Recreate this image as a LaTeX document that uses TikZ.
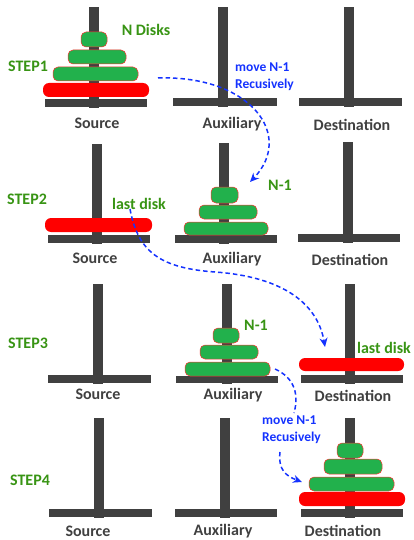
\documentclass[tikz,border=0pt]{standalone}
\usepackage{fontspec}
\setmainfont{Carlito}
\usetikzlibrary{arrows.meta,fit}
\definecolor{polegray}{RGB}{64,64,64}
\definecolor{diskgreen}{RGB}{34,177,76}
\definecolor{txtgreen}{RGB}{56,148,20}
\definecolor{txtblue}{RGB}{20,50,255}
\newcommand\hanoipeg[6]{%
  \fill[pole] (#1-5,#2) rectangle (#1+5,#6+1);
  \fill[pole] (#3,#5) rectangle (#4,#6);}
\begin{document}
\begin{tikzpicture}[x=1pt,y=-1pt,
  pole/.style={fill=polegray},
  gdisk/.style={draw=red!80, line width=0.5pt, fill=diskgreen, rounded corners=5pt, inner sep=0pt},
  rdisk/.style={draw=none, fill=red, rounded corners=6pt, inner sep=0pt},
  peg/.style={font=\bfseries\fontsize{16}{19}\selectfont, text=polegray, inner sep=0pt},
  note/.style={font=\bfseries\fontsize{16}{19}\selectfont, text=txtgreen, inner sep=0pt},
  move/.style={font=\bfseries\fontsize{13.5}{17}\selectfont, text=txtblue, align=left, inner sep=0pt},
  flow/.style={draw=txtblue, line width=1.5pt, dash pattern=on 4.5pt off 3pt},
  tip/.style={-{Stealth[length=9pt,width=8pt]}},
]
\useasboundingbox (0,0) rectangle (413,540);
% ---- pegs
\hanoipeg{94}{7}{45}{147}{99}{107}
\hanoipeg{223}{7}{173}{277}{98}{106}
\hanoipeg{349}{7}{299}{402}{98}{106}
\hanoipeg{97}{144}{48}{150}{235}{243}
\hanoipeg{224}{143}{175}{277}{235}{243}
\hanoipeg{348}{142}{298}{400}{234}{242}
\hanoipeg{98}{284}{48}{151}{375}{383}
\hanoipeg{227}{284}{176}{278}{376}{383}
\hanoipeg{350}{284}{301}{403}{375}{383}
\hanoipeg{99}{418}{49}{152}{509}{517}
\hanoipeg{225}{418}{175}{277}{509}{517}
\hanoipeg{350}{418}{301}{403}{509}{517}
% ---- disks
\node[gdisk, fit={(81,32) (107,47)}] (s1d1) {};
\node[gdisk, fit={(68,50) (126,64)}] (s1d2) {};
\node[gdisk, fit={(53,67) (138,81)}] (s1d3) {};
\node[rdisk, fit={(43,83) (149,97)}] (s1r) {};
\node[rdisk, fit={(45,218) (152,232)}] (s2r) {};
\node[gdisk, fit={(211,187) (238,203)}] (a2d1) {};
\node[gdisk, fit={(199,205) (257,219)}] (a2d2) {};
\node[gdisk, fit={(184,222) (268,235)}] (a2d3) {};
\node[gdisk, fit={(213,328) (239,343)}] (a3d1) {};
\node[gdisk, fit={(200,345) (258,359)}] (a3d2) {};
\node[gdisk, fit={(185,362) (270,376)}] (a3d3) {};
\node[rdisk, fit={(299,358) (404,371)}] (d3r) {};
\node[gdisk, fit={(337,443) (363,458)}] (d4d1) {};
\node[gdisk, fit={(324,459) (382,474)}] (d4d2) {};
\node[gdisk, fit={(309,477) (394,491)}] (d4d3) {};
\node[rdisk, fit={(299,492) (405,506)}] (d4r) {};
% ---- peg labels
\node[peg] (ls1) at (97,123) {Source};
\node[peg] (la1) at (232,124) {Auxiliary};
\node[peg] (ld1) at (352,125) {Destination};
\node[peg] (ls2) at (95,258) {Source};
\node[peg] (la2) at (232,259) {Auxiliary};
\node[peg] (ld2) at (350,260) {Destination};
\node[peg] (ls3) at (98,394) {Source};
\node[peg] (la3) at (233,395) {Auxiliary};
\node[peg] (ld3) at (353,396) {Destination};
\node[peg] (ls4) at (88,531) {Source};
\node[peg] (la4) at (223,531) {Auxiliary};
\node[peg] (ld4) at (343,531) {Destination};
% ---- green notes
\node[note] (st1) at (28,66) {STEP1};
\node[note] (st2) at (27,199) {STEP2};
\node[note] (st3) at (28,343) {STEP3};
\node[note] (st4) at (30,480) {STEP4};
\node[note] (nd) at (146,30) {N Disks};
\node[note] (ld) at (139,204) {last disk};
\node[note] (n1a) at (280,185) {N-1};
\node[note] (n1b) at (256,325) {N-1};
\node[note] (ldb) at (384,348) {last disk};
% ---- blue notes
\node[move, anchor=west] (mv1) at (235,77) {move N-1\\Recusively};
\node[move, anchor=west] (mv2) at (262,430) {move N-1\\Recusively};
% ---- arrows
\coordinate (a1s) at (158,78);
\coordinate (a1e) at (250,182);
\draw[flow, tip] (a1s) .. controls (250,75) and (295,135) .. (a1e);
\coordinate (a2s) at (130,209);
\coordinate (a2m) at (215,272);
\coordinate (a2e) at (325,347);
\draw[flow, tip] (a2s) .. controls (138,252) and (160,268) .. (a2m)
  .. controls (285,277) and (318,305) .. (a2e);
\coordinate (a3s) at (275,369);
\coordinate (a3m) at (294,413);
\coordinate (a3n) at (280,452);
\coordinate (a3e) at (302,482);
\draw[flow] (a3s) .. controls (295,378) and (299,395) .. (a3m);
\draw[flow, tip] (a3n) .. controls (278,470) and (286,476) .. (a3e);
\end{tikzpicture}
\end{document}
